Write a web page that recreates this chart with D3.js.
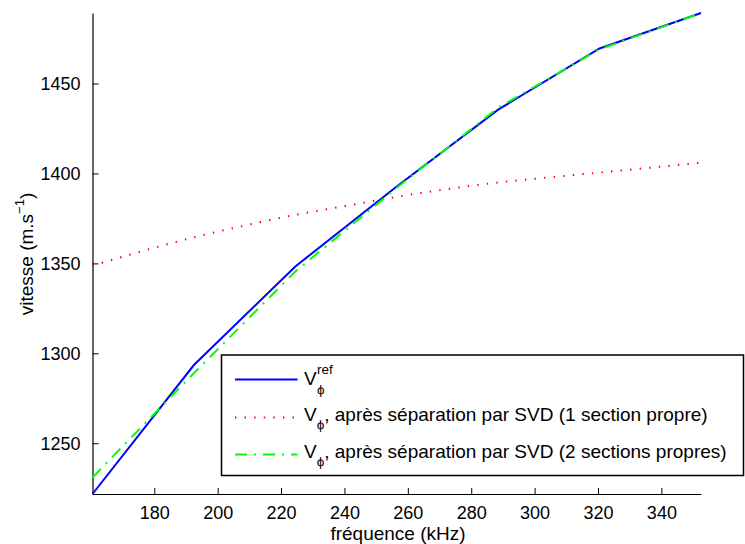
<!DOCTYPE html>
<html><head><meta charset="utf-8">
<script src="https://cdn.jsdelivr.net/npm/d3@7"></script>
<style>
body{margin:0;background:#fff;}
text{font-family:"Liberation Sans",Arial,sans-serif;fill:#000;}
</style></head>
<body><svg id="c" width="745" height="544"></svg>
<script>
// Data
const freq = [160.5, 192.5, 224.5, 256.5, 288.5, 320.5, 352.5];
const vRef = [1221.8, 1293.5, 1348.3, 1392.7, 1435.5, 1469.5, 1489.2];
const vSvd2 = [1231.0, 1289.0, 1345.5, 1392.0, 1436.5, 1469.0, 1489.2];
const freqFine = [160.5, 176.5, 192.5, 208.5, 224.5, 240.5, 256.5, 272.5, 288.5, 304.5, 320.5, 336.5, 352.5];
const vSvd1 = [1348.7, 1357.0, 1364.5, 1371.0, 1377.0, 1382.0, 1387.0, 1391.3, 1395.0, 1397.8, 1400.5, 1403.2, 1406.0];
const xTicks = [180, 200, 220, 240, 260, 280, 300, 320, 340];
const yTicks = [1250, 1300, 1350, 1400, 1450];
const xLabel = "fréquence (kHz)";
const legendTexts = ["", ", après séparation par SVD (1 section propre)", ", après séparation par SVD (2 sections propres)"];

const svg = d3.select("#c");
const x = d3.scaleLinear().domain([160.5, 352.5]).range([92.5, 701]);
const y = d3.scaleLinear().domain([1221.8, 1489.2]).range([494, 13]);

// Axes
const xAxis = d3.axisBottom(x).tickValues(xTicks).tickSizeInner(-6).tickSizeOuter(0).tickPadding(12).tickFormat(d3.format("d"));
const gx = svg.append("g").attr("transform","translate(0,494)").call(xAxis);
const yAxis = d3.axisLeft(y).tickValues(yTicks).tickSizeInner(-6).tickSizeOuter(0).tickPadding(12).tickFormat(d3.format("d"));
const gy = svg.append("g").attr("transform","translate(92.5,0)").call(yAxis);
[gx, gy].forEach(g => {
  g.select(".domain").attr("stroke","#000").attr("stroke-width",1.2);
  g.selectAll(".tick line").attr("stroke","#000").attr("stroke-width",1);
  g.selectAll(".tick text").attr("font-size",18).attr("font-family","Liberation Sans, Arial, sans-serif").attr("fill","#000");
});
gx.selectAll(".tick text").attr("dy","0.71em");

// Axis labels
svg.append("text").attr("x", 398).attr("y", 540).attr("text-anchor","middle").attr("font-size",19).text(xLabel);
const yl = svg.append("text").attr("transform","translate(33,254) rotate(-90)").attr("text-anchor","middle").attr("font-size",19);
yl.append("tspan").text("vitesse (m.s");
yl.append("tspan").attr("dy",-9).attr("font-size",13).text("−1");
yl.append("tspan").attr("dy",9).text(")");

// Lines
const line = d3.line().x(d => x(d[0])).y(d => y(d[1]));
svg.append("path").datum(freqFine.map((f,i)=>[f,vSvd1[i]]))
  .attr("d", line.curve(d3.curveMonotoneX)).attr("fill","none").attr("stroke","#ff0000")
  .attr("stroke-width",2).attr("stroke-dasharray","1.4,8.2");
const line2 = d3.line().x(d => x(d[0])).y(d => y(d[1]));
svg.append("path").datum(freq.map((f,i)=>[f,vRef[i]]))
  .attr("d", line2).attr("fill","none").attr("stroke","#0000ff").attr("stroke-width",2);
svg.append("path").datum(freq.map((f,i)=>[f,vSvd2[i]]))
  .attr("d", line2).attr("fill","none").attr("stroke","#00ff00").attr("stroke-width",2)
  .attr("stroke-dasharray","12,7,2,7");

// Legend
const lg = svg.append("g");
lg.append("rect").attr("x",221.5).attr("y",355).attr("width",522).attr("height",120.5)
  .attr("fill","#fff").attr("stroke","#000").attr("stroke-width",1.5);
const styles = [
  {c:"#0000ff", dash:null},
  {c:"#ff0000", dash:"1.4,8.2"},
  {c:"#00ff00", dash:"12,7,2,7"}
];
const rowY = [379.5, 417.5, 454.5];
const textX = 304;
styles.forEach((s,i) => {
  const l = lg.append("line").attr("x1",235).attr("x2",297.5).attr("y1",rowY[i]).attr("y2",rowY[i])
    .attr("stroke",s.c).attr("stroke-width",2);
  if (s.dash) l.attr("stroke-dasharray", s.dash);
  const base = i === 0 ? 385 : rowY[i] + 3;
  const t = lg.append("text").attr("x",textX).attr("y",base).attr("font-size",19);
  t.append("tspan").text("V");
  if (i === 0) {
    lg.append("text").attr("x",textX+13).attr("y",base-11).attr("font-size",13.5).text("ref");
    lg.append("text").attr("x",textX+13).attr("y",base+9).attr("font-size",13.5).text("ϕ");
  } else {
    t.append("tspan").attr("dy",8).attr("font-size",13.5).text("ϕ");
    t.append("tspan").attr("dy",-8).text(legendTexts[i]);
  }
});
</script></body></html>
